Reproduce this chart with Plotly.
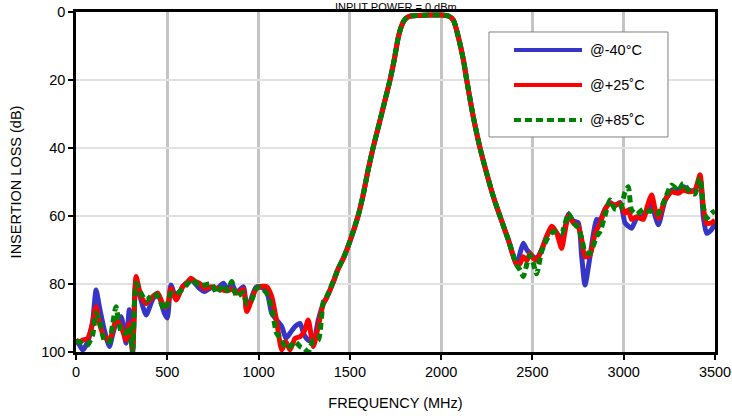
import plotly.graph_objects as go

# Frequency points (MHz)
freq = [0, 20, 37, 64, 91, 110, 128, 155, 183, 200, 219, 247, 274, 292, 310, 329, 356, 384, 420, 447,
        484, 500, 520, 548, 584, 610, 630, 655, 676, 703, 743, 770, 807, 830, 853, 880, 917, 935, 962, 985,
        1008, 1044, 1072, 1099, 1127, 1150, 1172, 1200, 1227, 1250, 1272, 1300, 1327, 1355, 1373, 1410, 1436, 1464, 1500, 1545,
        1570, 1600, 1627, 1660, 1690, 1720, 1745, 1765, 1785, 1805, 1830, 1880, 1940, 2000, 2040, 2067, 2094, 2122, 2140, 2176,
        2213, 2260, 2290, 2322, 2368, 2414, 2432, 2450, 2470, 2487, 2505, 2523, 2550, 2578, 2605, 2633, 2660, 2680, 2697, 2724,
        2751, 2770, 2788, 2815, 2835, 2852, 2870, 2897, 2925, 2952, 2980, 3007, 3025, 3043, 3071, 3107, 3130, 3153, 3172, 3190,
        3226, 3262, 3299, 3326, 3362, 3390, 3418, 3436, 3454, 3481, 3500]

# Insertion loss (dB) at +25 C
loss_p25 = [96.5, 97, 96.5, 96, 91.6, 86.7, 91.6, 95.5, 96.5, 94, 90.6, 92.5, 96.5, 91.6, 99.4, 77.8, 83.7, 85.7, 83.7, 82.7,
            86.7, 86.5, 81.3, 84.7, 80.8, 79.5, 78.3, 79.3, 79.8, 81.3, 80.8, 81.3, 81.8, 82, 81.5, 82.7, 81.5, 88.1, 84.7, 81.5,
            80.8, 80.8, 83.7, 91, 99.4, 97, 99.4, 96, 95.5, 94, 90.6, 98.4, 92.5, 85.7, 84, 79.3, 75.5, 72.5, 67.5, 60,
            54.5, 46.5, 40, 33, 26.5, 20, 13.5, 7.5, 3.8, 2, 1.2, 1.0, 0.9, 0.9, 1.2, 2.4, 7.3, 14.1, 20, 30.8,
            40, 49.5, 55, 60, 67, 74.4, 74, 72, 73, 71, 72.5, 73, 70, 66, 63, 65, 69.5, 64, 60, 62,
            63, 67, 72, 71.5, 67, 64, 62.2, 58.2, 56.3, 56.8, 56.3, 59.2, 58.2, 61, 60.2, 61, 57, 53.8, 58, 60.7,
            55.3, 52.9, 53.3, 52.4, 52.9, 52.4, 47.9, 57.3, 62.2, 62, 61.2]

# Insertion loss (dB) at -40 C
loss_m40 = [96.5, 98, 99.4, 97, 91, 81.8, 86.7, 93.5, 98.4, 95, 91.6, 89.6, 97.4, 87.6, 100.4, 78.8, 84.7, 89.1, 84.5, 82.7,
            88.6, 90, 80.3, 84, 80.8, 79.5, 78.6, 80, 81.3, 82.2, 81, 81.5, 79.8, 81.5, 80, 82.5, 80.8, 87.6, 84, 81,
            80.8, 82, 88.6, 90.6, 92.5, 96, 94.5, 92.5, 91.6, 95, 96.5, 97, 90.6, 85.7, 84, 79.3, 75.5, 72.5, 67.5, 60,
            54.5, 46.5, 40, 33, 26.5, 20, 13.5, 7.5, 3.8, 2, 1.2, 1.0, 0.9, 0.9, 1.2, 2.4, 7.3, 14.1, 20, 30.8,
            40, 49.5, 55, 60, 67, 74.4, 71, 68, 70, 71, 72, 72.5, 70, 66, 63.5, 65, 67, 63, 59.5, 61.5,
            62, 72, 80.3, 72, 65, 61, 61.2, 58, 56, 57, 56, 62, 63, 63.6, 60.7, 60, 58, 56.3, 60, 62.6,
            55.5, 52.4, 52.5, 51.4, 52.5, 52.4, 49, 60.2, 65.1, 64, 62]

# Insertion loss (dB) at +85 C
loss_p85 = [97, 97, 97.5, 97.9, 95, 88.6, 90.6, 96.5, 97, 92, 86.7, 94, 94.5, 92.5, 99.4, 79.8, 82.7, 85, 83, 83.5,
            87.6, 86, 82.7, 83, 81.5, 80, 78.8, 79.5, 80.5, 80.3, 80, 82.7, 80.3, 82, 79.3, 83.7, 82.5, 85.7, 84.7, 81.5,
            81, 82.7, 87.1, 94.5, 96.5, 99, 98.4, 97, 98.4, 99, 100, 96.5, 96.5, 85.2, 83.7, 79, 75.5, 72.5, 67.5, 60,
            54.5, 46.5, 40, 33, 26.5, 20, 13.5, 7.5, 3.8, 2, 1.2, 1.0, 0.9, 0.9, 1.2, 2.4, 7.3, 14.1, 20, 30.8,
            40, 49.5, 55, 60, 67, 74.4, 75.9, 77.8, 74, 71.5, 74, 77, 70.5, 67, 65, 64.5, 65, 62, 59.2, 62,
            63.5, 66.5, 70.5, 71, 68.5, 66, 64.6, 60, 55.3, 58, 58, 53, 51.4, 58.2, 59.5, 58, 58.5, 58.7, 59.5, 59.2,
            55, 50.9, 52.5, 50.4, 52.9, 53.5, 48.9, 57.3, 60.7, 59.2, 58.5]

series_names = ["@-40°C", "@+25˚C", "@+85˚C"]
series_colors = ["#3535c8", "#ff0000", "#008000"]
series_dash = ["solid", "solid", "7px,4px"]

x_ticks = [0, 500, 1000, 1500, 2000, 2500, 3000, 3500]
y_ticks = [0, 20, 40, 60, 80, 100]

FONT = "Liberation Sans, Arial, sans-serif"

fig = go.Figure()
for name, ys, col, dash in zip(series_names, [loss_m40, loss_p25, loss_p85], series_colors, series_dash):
    fig.add_trace(go.Scatter(
        x=freq, y=ys, name=name, mode="lines",
        line=dict(color=col, width=5, dash=dash, shape="spline", smoothing=0.6),
        showlegend=False, cliponaxis=True,
    ))

# Manual legend (paper coordinates)
legend_y = [0.888, 0.785, 0.682]
shapes = [dict(type="rect", xref="paper", yref="paper", x0=0.6463, x1=0.9264, y0=0.6324, y1=0.9412,
               line=dict(color="#808080", width=1), fillcolor="white", layer="above")]
annotations = []
for name, col, dash, ly in zip(series_names, series_colors, series_dash, legend_y):
    shapes.append(dict(type="line", xref="paper", yref="paper", x0=0.6854, x1=0.7919, y0=ly, y1=ly,
                       line=dict(color=col, width=4, dash=dash), layer="above"))
    annotations.append(dict(text=name, xref="paper", yref="paper", x=0.8013, y=ly, xanchor="left",
                            yanchor="middle", showarrow=False, font=dict(family=FONT, size=14.5, color="black")))

annotations.append(dict(text="INPUT POWER = 0 dBm", xref="paper", yref="paper", x=0.5, y=1.0353,
                        xanchor="center", yanchor="top", showarrow=False, borderpad=0,
                        font=dict(family=FONT, size=11, color="black")))

fig.update_layout(
    width=732, height=416,
    margin=dict(l=76, r=17, t=12, b=64, autoexpand=False),
    paper_bgcolor="white", plot_bgcolor="white",
    font=dict(family=FONT, size=14.5, color="black"),
    shapes=shapes, annotations=annotations,
)
fig.update_xaxes(
    range=[0, 3500], tickvals=x_ticks, ticktext=[str(v) for v in x_ticks],
    showgrid=True, gridcolor="#c4c4c4", gridwidth=2.5,
    showline=True, linecolor="black", linewidth=2.5, mirror=True,
    ticks="outside", ticklen=5, tickwidth=2, tickcolor="black",
    title=dict(text="FREQUENCY (MHz)", standoff=19, font=dict(size=14.5)),
    zeroline=False, automargin=False,
)
fig.update_yaxes(
    range=[100, 0], tickvals=y_ticks, ticktext=[str(v) for v in y_ticks],
    showgrid=True, gridcolor="#e2e2e2", gridwidth=1.5,
    showline=True, linecolor="black", linewidth=2.5, mirror=True,
    ticks="outside", ticklen=5, tickwidth=2, tickcolor="black",
    title=dict(text="INSERTION LOSS (dB)", standoff=17, font=dict(size=14.5)),
    zeroline=False, automargin=False,
)

fig.write_html("out.html", config={"displayModeBar": False},
               post_script="document.body.style.margin='0';document.body.style.padding='0';")
